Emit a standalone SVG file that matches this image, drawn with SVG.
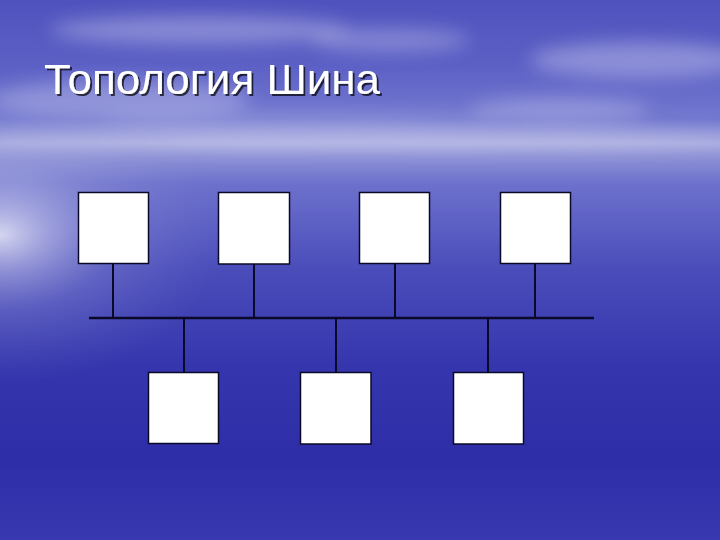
<svg xmlns="http://www.w3.org/2000/svg" width="720" height="540" viewBox="0 0 720 540">
  <defs>
    <linearGradient id="bg" x1="0" y1="0" x2="0" y2="1">
      <stop offset="0" stop-color="#4f52bd"/>
      <stop offset="0.12" stop-color="#5c60c5"/>
      <stop offset="0.22" stop-color="#7378cf"/>
      <stop offset="0.265" stop-color="#a6a9de"/>
      <stop offset="0.29" stop-color="#8e92d6"/>
      <stop offset="0.34" stop-color="#6d71cc"/>
      <stop offset="0.5" stop-color="#4a4cba"/>
      <stop offset="0.68" stop-color="#3536ad"/>
      <stop offset="0.85" stop-color="#2e2da8"/>
      <stop offset="1" stop-color="#3839b1"/>
    </linearGradient>
    <radialGradient id="glow" cx="0" cy="0" r="1" gradientUnits="userSpaceOnUse" gradientTransform="translate(0 235) scale(230 150)">
      <stop offset="0" stop-color="#ffffff" stop-opacity="0.75"/>
      <stop offset="0.2" stop-color="#e6e7f7" stop-opacity="0.5"/>
      <stop offset="0.5" stop-color="#b8bbe6" stop-opacity="0.22"/>
      <stop offset="1" stop-color="#8a8ed6" stop-opacity="0"/>
    </radialGradient>
    <filter id="blur" x="-20%" y="-50%" width="140%" height="200%">
      <feGaussianBlur stdDeviation="9"/>
    </filter>
    <filter id="tshadow" x="-5%" y="-20%" width="110%" height="150%">
      <feGaussianBlur in="SourceAlpha" stdDeviation="0.6"/>
      <feOffset dx="2" dy="2"/>
      <feComponentTransfer><feFuncA type="linear" slope="0.7"/></feComponentTransfer>
      <feMerge><feMergeNode/><feMergeNode in="SourceGraphic"/></feMerge>
    </filter>
    <style>
      .node { fill: #ffffff; stroke: #0a0a28; stroke-width: 1.5; }
      .wire { stroke: #0a0a28; stroke-width: 2; fill: none; }
      .bus { stroke: #0a0a28; stroke-width: 2.5; fill: none; }
      .title { font-family: "Liberation Sans", Arial, sans-serif; font-size: 43px; fill: #ffffff; }
    </style>
  </defs>

  <!-- background -->
  <rect x="0" y="0" width="720" height="540" fill="url(#bg)"/>
  <g filter="url(#blur)" fill="#e8e9fa">
    <ellipse cx="200" cy="30" rx="150" ry="14" opacity="0.35"/>
    <ellipse cx="390" cy="40" rx="80" ry="12" opacity="0.3"/>
    <ellipse cx="640" cy="60" rx="110" ry="18" opacity="0.35"/>
    <ellipse cx="560" cy="110" rx="90" ry="12" opacity="0.3"/>
    <ellipse cx="120" cy="100" rx="130" ry="20" opacity="0.3"/>
    <ellipse cx="360" cy="140" rx="380" ry="8" opacity="0.35"/>
    <ellipse cx="300" cy="120" rx="200" ry="8" opacity="0.2"/>
  </g>
  <rect x="0" y="0" width="720" height="540" fill="url(#glow)"/>

  <!-- title -->
  <text class="title" x="44" y="94" textLength="336" lengthAdjust="spacingAndGlyphs" filter="url(#tshadow)">Топология Шина</text>

  <!-- connectors -->
  <g id="connectors">
    <line class="bus" x1="89" y1="318" x2="594" y2="318"/>
    <line class="wire" x1="113" y1="263" x2="113" y2="318"/>
    <line class="wire" x1="254" y1="264" x2="254" y2="318"/>
    <line class="wire" x1="395" y1="263" x2="395" y2="318"/>
    <line class="wire" x1="535" y1="263" x2="535" y2="318"/>
    <line class="wire" x1="184" y1="318" x2="184" y2="372"/>
    <line class="wire" x1="336" y1="318" x2="336" y2="372"/>
    <line class="wire" x1="488" y1="318" x2="488" y2="372"/>
  </g>

  <!-- nodes -->
  <g id="node1"><rect class="node" x="78.5" y="192.5" width="70" height="71"/></g>
  <g id="node2"><rect class="node" x="218.5" y="192.5" width="71" height="71.5"/></g>
  <g id="node3"><rect class="node" x="359.5" y="192.5" width="70" height="71"/></g>
  <g id="node4"><rect class="node" x="500.5" y="192.5" width="70" height="71"/></g>
  <g id="node5"><rect class="node" x="148.5" y="372.5" width="70" height="71"/></g>
  <g id="node6"><rect class="node" x="300.5" y="372.5" width="70.5" height="71.5"/></g>
  <g id="node7"><rect class="node" x="453.5" y="372.5" width="70" height="71.5"/></g>
</svg>
